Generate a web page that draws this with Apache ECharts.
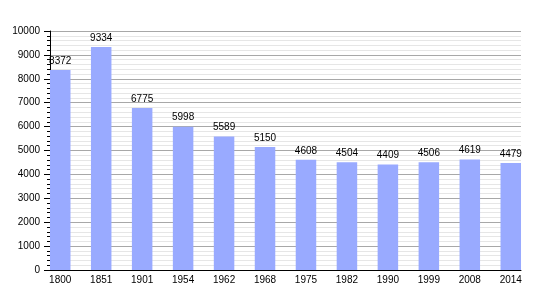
<!DOCTYPE html>
<html><head><meta charset="utf-8">
<script src="https://cdn.jsdelivr.net/npm/echarts@6/dist/echarts.min.js"></script>
<style>html,body{margin:0;padding:0;background:#fff}#c{width:550px;height:300px}</style>
</head><body><div id="c"></div>
<script>
const years = ['1800','1851','1901','1954','1962','1968','1975','1982','1990','1999','2008','2014'];
const population = [8372,9334,6775,5998,5589,5150,4608,4504,4409,4506,4619,4479];
const yTicks = [0,1000,2000,3000,4000,5000,6000,7000,8000,9000,10000];

const font = 'Liberation Sans, Arial, sans-serif';
const chart = echarts.init(document.getElementById('c'), null, {renderer:'canvas'});
chart.setOption({
  animation:false,
  grid:{left:50, right:29, top:31, bottom:30, containLabel:false},
  xAxis:{
    type:'value', min:-0.25, max:11.25,
    axisLine:{show:true, onZero:false, lineStyle:{color:'#000', width:1}},
    axisTick:{show:false},
    splitLine:{show:false},
    axisLabel:{
      customValues: years.map((y,i)=>i),
      formatter: v => years[Math.round(v)],
      color:'#000', fontSize:10, fontFamily:font, margin:5
    }
  },
  yAxis:{
    type:'value', min:yTicks[0], max:yTicks[yTicks.length-1], interval:1000,
    axisLine:{show:true, onZero:false, lineStyle:{color:'#000', width:1}},
    axisTick:{show:true, length:6, lineStyle:{color:'#000'}},
    minorTick:{show:true, splitNumber:5, length:3, lineStyle:{color:'#000'}},
    splitLine:{show:true, lineStyle:{color:'#a8a8a8', width:1}},
    minorSplitLine:{show:true, lineStyle:{color:'#e6e6e6', width:1}},
    axisLabel:{color:'#000', fontSize:10, fontFamily:font, margin:10, formatter: v => String(v)}
  },
  series:[{
    type:'bar',
    data: population.map((v,i)=>[i,v]),
    barWidth:20.5,
    itemStyle:{color:'#99aaff'},
    label:{show:true, position:'top', distance:4, color:'#000', fontSize:10, fontFamily:font,
      formatter: p => p.value[1]}
  }]
});
</script></body></html>
